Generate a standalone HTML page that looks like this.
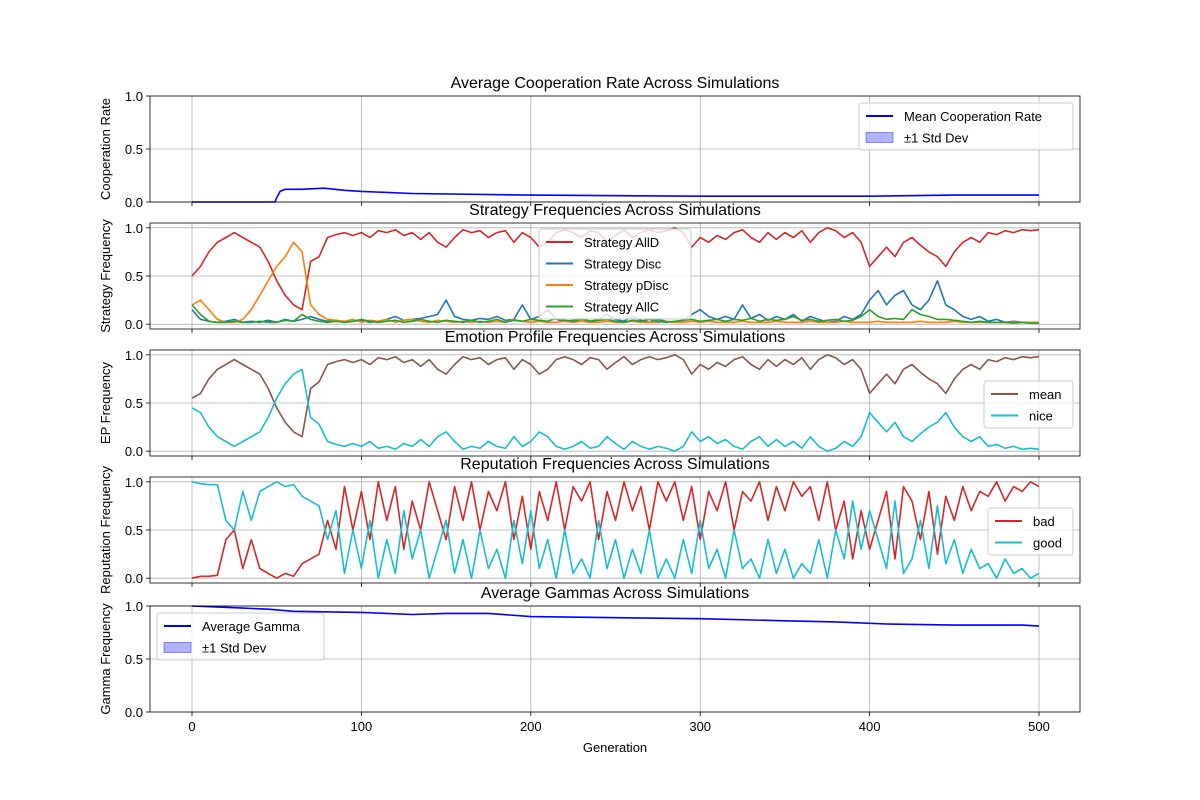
<!DOCTYPE html>
<html><head><meta charset="utf-8"><style>
body{margin:0;background:#fff}
svg{display:block;font-family:"Liberation Sans","DejaVu Sans",sans-serif}
</style></head><body>
<svg id="chart" width="1200" height="800" xmlns="http://www.w3.org/2000/svg"></svg>
<script>
const coopGen=[0,49,50,52,55,60,65,70,78,90,100,130,200,300,400,450,500];
const coopVals=[0,0,0.04,0.1,0.12,0.12,0.12,0.125,0.13,0.11,0.1,0.08,0.065,0.055,0.055,0.065,0.065];
const allD=[0.5,0.6,0.75,0.85,0.9,0.95,0.9,0.85,0.8,0.65,0.45,0.3,0.2,0.15,0.65,0.7,0.9,0.93,0.95,0.92,0.95,0.9,0.97,0.95,0.98,0.92,0.95,0.88,0.95,0.85,0.8,0.9,0.98,0.95,0.97,0.9,0.95,0.97,0.85,0.95,0.9,0.8,0.85,0.95,0.98,0.95,0.9,0.97,0.95,0.85,0.92,0.98,0.9,0.95,0.98,0.95,0.97,1.0,0.95,0.8,0.9,0.85,0.92,0.88,0.95,0.98,0.9,0.85,0.95,0.88,0.95,0.9,0.97,0.85,0.95,1.0,0.97,0.9,0.95,0.85,0.6,0.7,0.8,0.7,0.85,0.9,0.82,0.75,0.7,0.6,0.75,0.85,0.9,0.85,0.95,0.93,0.97,0.95,0.98,0.97,0.98];
const disc=[0.15,0.05,0.03,0.02,0.03,0.05,0.02,0.03,0.02,0.04,0.02,0.05,0.03,0.05,0.08,0.05,0.03,0.04,0.02,0.03,0.04,0.02,0.03,0.05,0.08,0.04,0.05,0.06,0.08,0.1,0.25,0.08,0.05,0.04,0.06,0.05,0.08,0.04,0.05,0.2,0.05,0.08,0.15,0.05,0.03,0.04,0.06,0.03,0.05,0.1,0.05,0.03,0.08,0.04,0.02,0.05,0.03,0.02,0.04,0.1,0.15,0.08,0.05,0.08,0.05,0.2,0.06,0.1,0.04,0.08,0.05,0.1,0.03,0.08,0.05,0.02,0.03,0.08,0.05,0.1,0.25,0.35,0.2,0.3,0.35,0.2,0.15,0.25,0.45,0.2,0.15,0.08,0.05,0.08,0.03,0.05,0.02,0.03,0.02,0.02,0.01];
const pDisc=[0.2,0.25,0.15,0.05,0.02,0.02,0.05,0.15,0.3,0.45,0.6,0.7,0.85,0.75,0.2,0.1,0.05,0.04,0.03,0.05,0.02,0.04,0.03,0.05,0.02,0.04,0.05,0.03,0.02,0.04,0.03,0.02,0.03,0.02,0.03,0.02,0.03,0.02,0.05,0.03,0.02,0.03,0.02,0.02,0.03,0.02,0.03,0.02,0.02,0.03,0.02,0.02,0.03,0.02,0.02,0.02,0.03,0.02,0.02,0.03,0.02,0.03,0.02,0.02,0.02,0.03,0.02,0.02,0.02,0.03,0.02,0.02,0.02,0.03,0.02,0.02,0.02,0.03,0.02,0.02,0.02,0.03,0.02,0.02,0.02,0.02,0.03,0.02,0.02,0.02,0.03,0.02,0.02,0.02,0.02,0.02,0.02,0.02,0.02,0.02,0.02];
const allC=[0.2,0.1,0.03,0.02,0.02,0.03,0.02,0.02,0.03,0.02,0.02,0.04,0.03,0.1,0.05,0.03,0.02,0.03,0.02,0.03,0.05,0.03,0.02,0.03,0.04,0.02,0.03,0.05,0.03,0.02,0.04,0.03,0.02,0.04,0.02,0.03,0.05,0.02,0.04,0.03,0.05,0.04,0.03,0.06,0.04,0.03,0.05,0.03,0.04,0.05,0.03,0.02,0.04,0.03,0.05,0.03,0.02,0.03,0.04,0.05,0.03,0.04,0.05,0.03,0.05,0.04,0.06,0.03,0.05,0.04,0.05,0.08,0.04,0.05,0.03,0.04,0.05,0.03,0.04,0.08,0.15,0.08,0.05,0.06,0.05,0.15,0.1,0.08,0.05,0.05,0.04,0.03,0.02,0.03,0.02,0.02,0.02,0.01,0.02,0.01,0.01];
const epMean=[0.55,0.6,0.75,0.85,0.9,0.95,0.9,0.85,0.8,0.65,0.45,0.3,0.2,0.15,0.65,0.72,0.9,0.93,0.95,0.92,0.95,0.9,0.97,0.95,0.98,0.92,0.95,0.88,0.95,0.85,0.8,0.9,0.98,0.95,0.97,0.9,0.95,0.97,0.85,0.95,0.9,0.8,0.85,0.95,0.98,0.95,0.9,0.97,0.95,0.85,0.92,0.98,0.9,0.95,0.98,0.95,0.97,1.0,0.95,0.8,0.9,0.85,0.92,0.88,0.95,0.98,0.9,0.85,0.95,0.88,0.95,0.9,0.97,0.85,0.95,1.0,0.97,0.9,0.95,0.85,0.6,0.7,0.8,0.7,0.85,0.9,0.82,0.75,0.7,0.6,0.75,0.85,0.9,0.85,0.95,0.93,0.97,0.95,0.98,0.97,0.98];
const epNice=[0.45,0.4,0.25,0.15,0.1,0.05,0.1,0.15,0.2,0.35,0.55,0.7,0.8,0.85,0.35,0.28,0.1,0.07,0.05,0.08,0.05,0.1,0.03,0.05,0.02,0.08,0.05,0.12,0.05,0.15,0.2,0.1,0.02,0.05,0.03,0.1,0.05,0.03,0.15,0.05,0.1,0.2,0.15,0.05,0.02,0.05,0.1,0.03,0.05,0.15,0.08,0.02,0.1,0.05,0.02,0.05,0.03,0.0,0.05,0.2,0.1,0.15,0.08,0.12,0.05,0.02,0.1,0.15,0.05,0.12,0.05,0.1,0.03,0.15,0.05,0.0,0.03,0.1,0.05,0.15,0.4,0.3,0.2,0.3,0.15,0.1,0.18,0.25,0.3,0.4,0.25,0.15,0.1,0.15,0.05,0.07,0.03,0.05,0.02,0.03,0.02];
const repBad=[0.0,0.02,0.02,0.03,0.4,0.5,0.1,0.4,0.1,0.05,0.0,0.05,0.02,0.15,0.2,0.25,0.6,0.3,0.95,0.5,0.9,0.4,1.0,0.6,0.95,0.3,0.8,0.5,1.0,0.7,0.4,0.95,0.6,1.0,0.5,0.9,0.7,1.0,0.4,0.85,0.3,0.9,0.6,1.0,0.5,0.95,0.8,1.0,0.4,0.9,0.6,1.0,0.7,0.95,0.5,1.0,0.8,1.0,0.6,0.95,0.4,0.9,0.7,1.0,0.5,0.9,0.8,1.0,0.6,0.95,0.7,1.0,0.85,0.95,0.6,1.0,0.5,0.8,0.2,0.7,0.3,0.6,0.9,0.2,0.95,0.8,0.4,0.9,0.25,0.85,0.6,0.95,0.7,0.9,0.85,1.0,0.8,0.95,0.9,1.0,0.95];
const repGood=[1.0,0.98,0.97,0.97,0.6,0.5,0.9,0.6,0.9,0.95,1.0,0.95,0.97,0.85,0.8,0.75,0.4,0.7,0.05,0.5,0.1,0.6,0.0,0.4,0.05,0.7,0.2,0.5,0.0,0.3,0.6,0.05,0.4,0.0,0.5,0.1,0.3,0.0,0.6,0.15,0.7,0.1,0.4,0.0,0.5,0.05,0.2,0.0,0.6,0.1,0.4,0.0,0.3,0.05,0.5,0.0,0.2,0.0,0.4,0.05,0.6,0.1,0.3,0.0,0.5,0.1,0.2,0.0,0.4,0.05,0.3,0.0,0.15,0.05,0.4,0.0,0.5,0.2,0.8,0.3,0.7,0.4,0.1,0.8,0.05,0.2,0.6,0.1,0.75,0.15,0.4,0.05,0.3,0.1,0.15,0.0,0.2,0.05,0.1,0.0,0.05];
const gammaGen=[0,30,45,60,100,130,150,175,200,250,300,350,380,410,450,490,500];
const gammaVals=[1.0,0.98,0.97,0.95,0.94,0.92,0.93,0.93,0.9,0.89,0.88,0.86,0.85,0.83,0.82,0.82,0.81];
const xTicks=[0,100,200,300,400,500];
const yTicks=[0,0.5,1];
const yTickLabels=["0.0","0.5","1.0"];

const svg=document.getElementById('chart');
const NS='http://www.w3.org/2000/svg';
function mk(tag,attrs,parent){const e=document.createElementNS(NS,tag);for(const k in attrs)e.setAttribute(k,attrs[k]);(parent||svg).appendChild(e);return e;}
const L=150,R=1080;
const xs=g=>192+g*(1039-192)/500;
const panels=[
 {top:96,bot:202,lo:0,hi:1,title:"Average Cooperation Rate Across Simulations",yl:"Cooperation Rate",name:"cooperation"},
 {top:223,bot:329,lo:-0.05,hi:1.05,title:"Strategy Frequencies Across Simulations",yl:"Strategy Frequency",name:"strategy"},
 {top:350,bot:456,lo:-0.05,hi:1.05,title:"Emotion Profile Frequencies Across Simulations",yl:"EP Frequency",name:"emotion"},
 {top:477,bot:583,lo:-0.05,hi:1.05,title:"Reputation Frequencies Across Simulations",yl:"Reputation Frequency",name:"reputation"},
 {top:606,bot:712,lo:0,hi:1,title:"Average Gammas Across Simulations",yl:"Gamma Frequency",name:"gamma"}];
panels.forEach((p,i)=>{
 p.y=v=>p.bot-(v-p.lo)/(p.hi-p.lo)*(p.bot-p.top);
 const g=mk('g',{});
 
 
 p.g=g;
 xTicks.forEach(t=>{const l=mk('line',{x1:xs(t),x2:xs(t),y1:p.top,y2:p.bot,stroke:'#b0b0b0','stroke-width':0.8},g);
  
  mk('line',{x1:xs(t),x2:xs(t),y1:p.bot,y2:p.bot+4,stroke:'#000','stroke-width':0.8},g);
  if(i===4){const tx=mk('text',{x:xs(t),y:p.bot+19,'font-size':13,'text-anchor':'middle'},g);tx.textContent=t;
   }});
 yTicks.forEach((t,j)=>{const y=p.y(t);const l=mk('line',{x1:L,x2:R,y1:y,y2:y,stroke:'#b0b0b0','stroke-width':0.8},g);
  
  mk('line',{x1:L-4,x2:L,y1:y,y2:y,stroke:'#000','stroke-width':0.8},g);
  const tx=mk('text',{x:L-7,y:y+5,'font-size':13,'text-anchor':'end'},g);tx.textContent=yTickLabels[j];
  });
 const tt=mk('text',{x:615,y:p.top-8,'font-size':16,'text-anchor':'middle'},g);tt.textContent=p.title;
 
 const cy=(p.top+p.bot)/2;
 const yl=mk('text',{x:110,y:cy,'font-size':13,'text-anchor':'middle',transform:`rotate(-90 110 ${cy})`},g);yl.textContent=p.yl;
 
});
function series(p,vals,gens,color,name){
 const n=vals.length;
 const pts=vals.map((v,k)=>{const g=gens?gens[k]:k*500/(n-1);return xs(g).toFixed(1)+','+p.y(v).toFixed(1);}).join(' ');
 const pl=mk('polyline',{points:pts,fill:'none',stroke:color,'stroke-width':1.6,'stroke-linejoin':'round'},p.g);
 
 
}
series(panels[0],coopVals,coopGen,'#0000ff','mean-cooperation-line');
series(panels[1],allD,null,'#d62728','strategy-alld-line');
series(panels[1],disc,null,'#1f77b4','strategy-disc-line');
series(panels[1],pDisc,null,'#ff7f0e','strategy-pdisc-line');
series(panels[1],allC,null,'#2ca02c','strategy-allc-line');
series(panels[2],epMean,null,'#8c564b','ep-mean-line');
series(panels[2],epNice,null,'#17becf','ep-nice-line');
series(panels[3],repBad,null,'#d62728','reputation-bad-line');
series(panels[3],repGood,null,'#17becf','reputation-good-line');
series(panels[4],gammaVals,gammaGen,'#0000ff','average-gamma-line');
panels.forEach(p=>{const f=mk('rect',{x:L,y:p.top,width:R-L,height:p.bot-p.top,fill:'none',stroke:'#000','stroke-width':0.8},p.g);
 });
function legend(x,y,w,entries,name){
 const g=mk('g',{});
 
 
 const sp=21.5;
 mk('rect',{x:x,y:y,width:w,height:entries.length*sp+4,rx:3,fill:'#fff','fill-opacity':0.8,stroke:'#ccc'},g);
 entries.forEach((e,k)=>{const yy=y+13+k*sp;
  if(e.patch){mk('rect',{x:x+7,y:yy-5,width:27,height:10,fill:'#0000ff','fill-opacity':0.3,stroke:'#0000ff','stroke-opacity':0.4},g);}
  else mk('line',{x1:x+7,x2:x+34,y1:yy,y2:yy,stroke:e.c,'stroke-width':2},g);
  const t=mk('text',{x:x+45,y:yy+5,'font-size':13},g);t.textContent=e.t;
  });
}
legend(859,103,214,[{c:'#0000ff',t:'Mean Cooperation Rate'},{patch:1,t:'±1 Std Dev'}],'cooperation-legend');
legend(539,229,152,[{c:'#d62728',t:'Strategy AllD'},{c:'#1f77b4',t:'Strategy Disc'},{c:'#ff7f0e',t:'Strategy pDisc'},{c:'#2ca02c',t:'Strategy AllC'}],'strategy-legend');
legend(984,381,89,[{c:'#8c564b',t:'mean'},{c:'#17becf',t:'nice'}],'emotion-legend');
legend(988,508,85,[{c:'#d62728',t:'bad'},{c:'#17becf',t:'good'}],'reputation-legend');
legend(157,613,167,[{c:'#0000ff',t:'Average Gamma'},{patch:1,t:'±1 Std Dev'}],'gamma-legend');
const xl=mk('text',{x:615,y:752,'font-size':13,'text-anchor':'middle'});xl.textContent='Generation';


</script>
</body></html>
